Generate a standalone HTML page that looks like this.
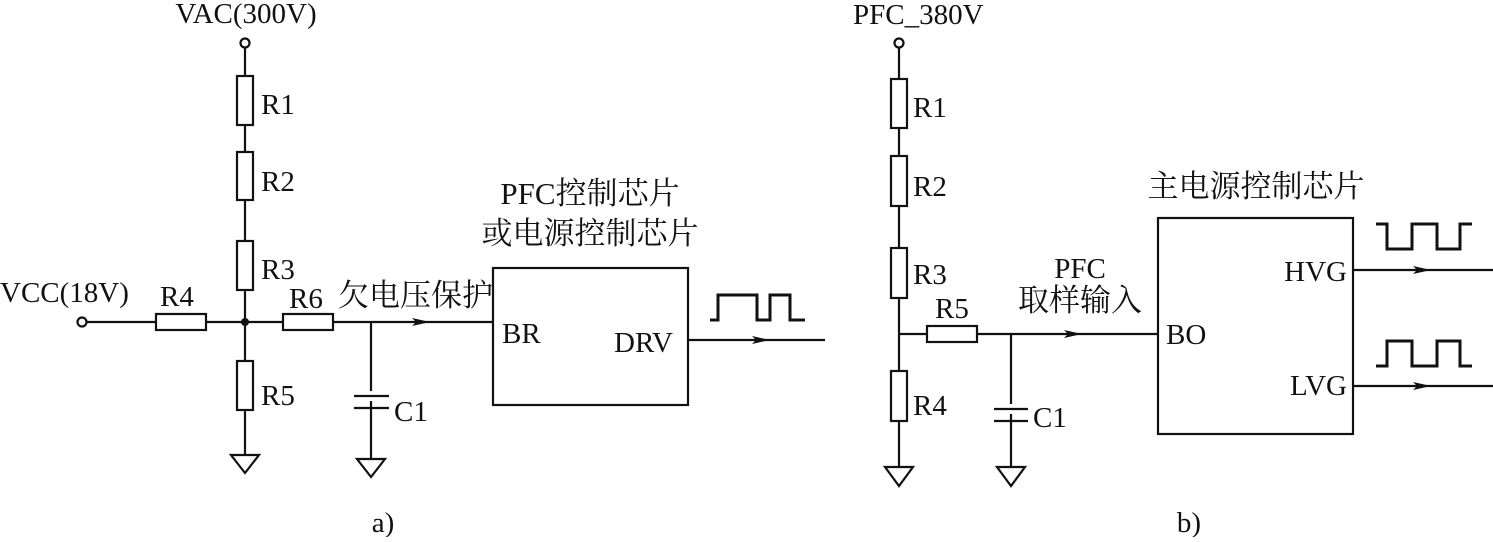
<!DOCTYPE html>
<html><head><meta charset="utf-8"><style>
html,body{margin:0;padding:0;background:#fff}
svg text{font-family:"Liberation Serif","Noto Serif CJK SC",serif;font-size:29px;fill:#111}
svg text.c{font-size:31px}
</style></head><body>
<svg width="1493" height="537" viewBox="0 0 1493 537" xmlns="http://www.w3.org/2000/svg">
<g stroke="#111" stroke-width="2.2" fill="none">
<!-- (a) -->
<circle cx="245" cy="43" r="4.5" fill="#fff"/>
<line x1="245" y1="48" x2="245" y2="455"/>
<rect x="237" y="76" width="16" height="49" fill="#fff"/>
<rect x="237" y="152" width="16" height="48" fill="#fff"/>
<rect x="237" y="241" width="16" height="49" fill="#fff"/>
<rect x="237" y="361" width="16" height="49" fill="#fff"/>
<polygon points="231,455 259,455 245,473"/>
<circle cx="82" cy="322" r="4.5" fill="#fff"/>
<line x1="87" y1="322" x2="493" y2="322"/>
<rect x="156" y="314" width="50" height="16" fill="#fff"/>
<rect x="283" y="314" width="50" height="16" fill="#fff"/>
<line x1="371" y1="322" x2="371" y2="459"/>
<line x1="354" y1="396" x2="389" y2="396" stroke="#fff" stroke-width="10"/>
<line x1="354" y1="396" x2="389" y2="396"/>
<line x1="354" y1="408" x2="389" y2="408"/>
<polygon points="357,459 385,459 371,477"/>
<rect x="493" y="268" width="195" height="137"/>
<line x1="688" y1="340" x2="825" y2="340"/>
<polyline points="710,320 718,320 718,295 757,295 757,320 770,320 770,295 790,295 790,320 805,320" stroke-width="3"/>
<!-- (b) -->
<circle cx="899" cy="43" r="4.5" fill="#fff"/>
<line x1="899" y1="48" x2="899" y2="467"/>
<rect x="891" y="79" width="16" height="49" fill="#fff"/>
<rect x="891" y="156" width="16" height="50" fill="#fff"/>
<rect x="891" y="248" width="16" height="50" fill="#fff"/>
<rect x="891" y="371" width="16" height="50" fill="#fff"/>
<polygon points="885,467 913,467 899,486"/>
<line x1="899" y1="334" x2="1158" y2="334"/>
<rect x="927" y="326" width="50" height="16" fill="#fff"/>
<line x1="1011" y1="334" x2="1011" y2="467"/>
<line x1="994" y1="409" x2="1028" y2="409" stroke="#fff" stroke-width="10"/>
<line x1="994" y1="409" x2="1028" y2="409"/>
<line x1="994" y1="421" x2="1028" y2="421"/>
<polygon points="997,467 1025,467 1011,486"/>
<rect x="1158" y="218" width="195" height="216"/>
<line x1="1353" y1="270" x2="1493" y2="270"/>
<line x1="1353" y1="386" x2="1493" y2="386"/>
<polyline points="1376,224 1387,224 1387,249 1412,249 1412,224 1437,224 1437,249 1460,249 1460,224 1472,224" stroke-width="3"/>
<polyline points="1376,366 1387,366 1387,341 1412,341 1412,366 1437,366 1437,341 1460,341 1460,366 1472,366" stroke-width="3"/>
</g>
<g fill="#111">
<circle cx="245" cy="322" r="4"/>
<polygon points="412,318 430,322 412,326 416,322"/>
<polygon points="752,336 770,340 752,344 756,340"/>
<polygon points="1064,330 1082,334 1064,338 1068,334"/>
<polygon points="1413,266 1431,270 1413,274 1417,270"/>
<polygon points="1413,382 1431,386 1413,390 1417,386"/>
</g>
<text x="246" y="23" text-anchor="middle">VAC(300V)</text>
<text x="261" y="114">R1</text>
<text x="261" y="191">R2</text>
<text x="261" y="279">R3</text>
<text x="261" y="405">R5</text>
<text x="0" y="302">VCC(18V)</text>
<text x="160" y="306">R4</text>
<text x="289" y="308">R6</text>
<text class="c" x="338" y="306">欠电压保护</text>
<text x="394" y="421">C1</text>
<text class="c" x="590" y="204" text-anchor="middle">PFC控制芯片</text>
<text class="c" x="590" y="244" text-anchor="middle">或电源控制芯片</text>
<text x="502" y="343">BR</text>
<text x="614" y="352">DRV</text>
<text x="383" y="532" text-anchor="middle">a)</text>
<text x="853" y="24">PFC_380V</text>
<text x="913" y="117">R1</text>
<text x="913" y="196">R2</text>
<text x="913" y="284">R3</text>
<text x="913" y="415">R4</text>
<text x="935" y="318">R5</text>
<text x="1033" y="427">C1</text>
<text x="1080" y="278" text-anchor="middle">PFC</text>
<text class="c" x="1080" y="311" text-anchor="middle">取样输入</text>
<text class="c" x="1256" y="197" text-anchor="middle">主电源控制芯片</text>
<text x="1166" y="344">BO</text>
<text x="1347" y="281" text-anchor="end">HVG</text>
<text x="1347" y="395" text-anchor="end">LVG</text>
<text x="1189" y="532" text-anchor="middle">b)</text>
</svg>
</body></html>
